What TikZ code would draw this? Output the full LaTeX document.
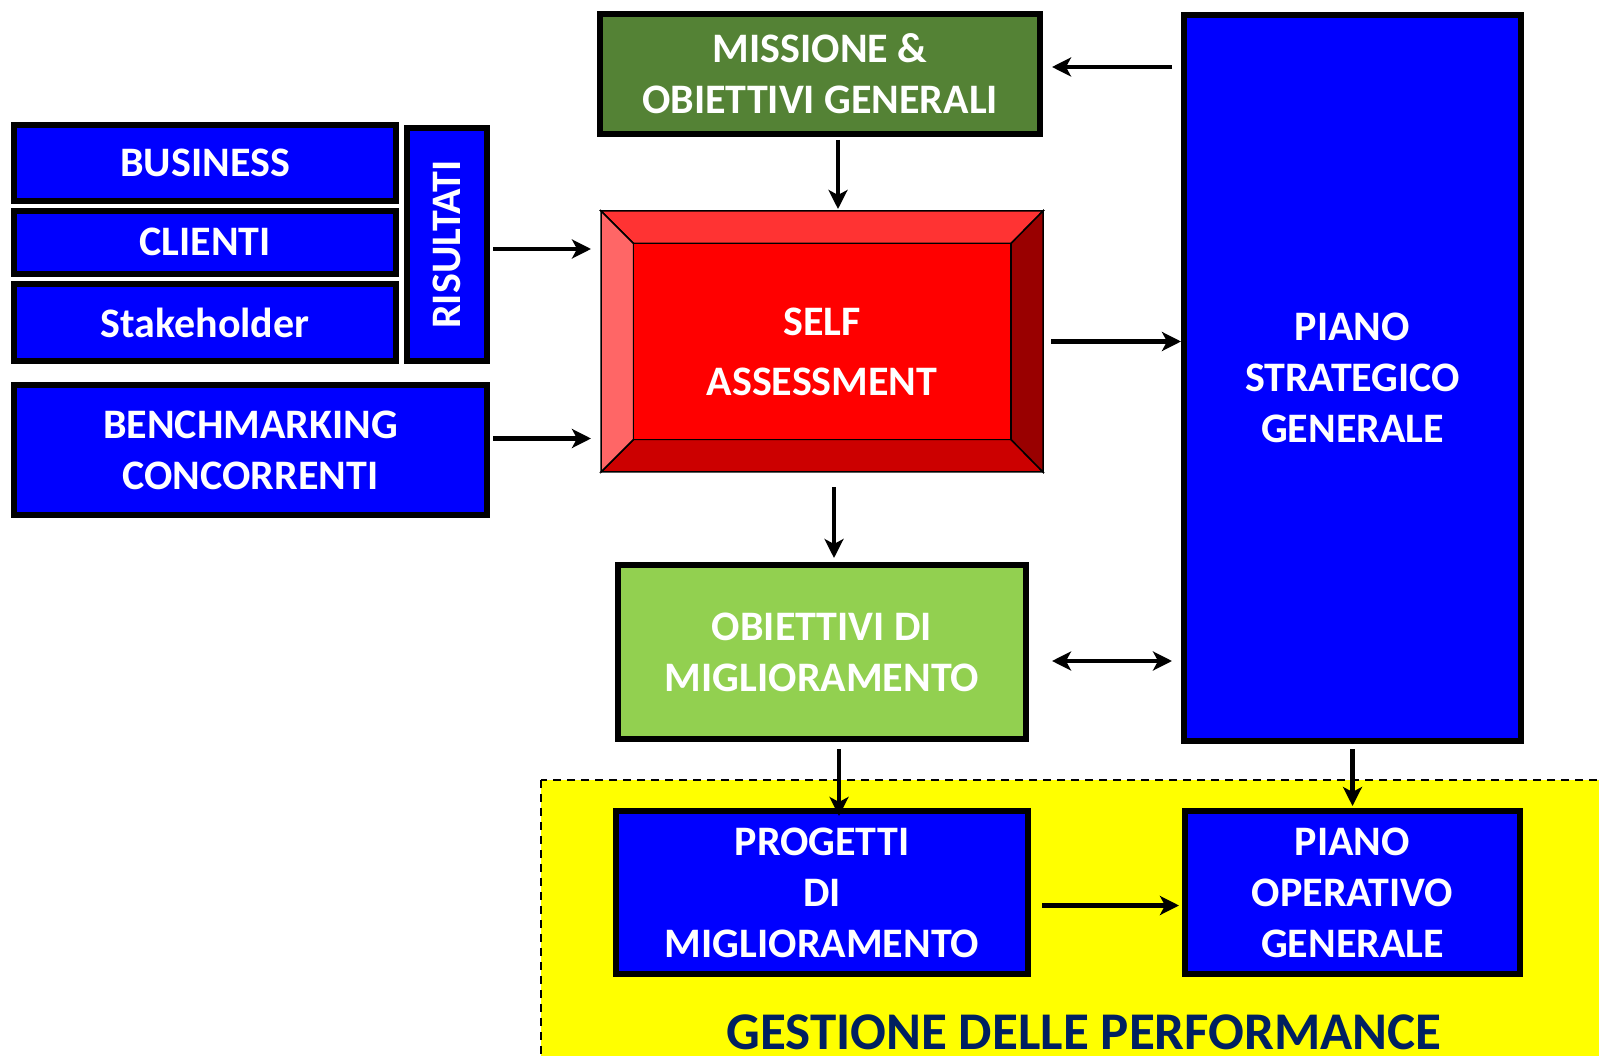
\documentclass[tikz,border=0pt]{standalone}
\usepackage{fontspec}
\setmainfont{Carlito}
\usetikzlibrary{positioning,arrows.meta}
\definecolor{boxblue}{RGB}{0,0,255}
\definecolor{missgreen}{RGB}{84,130,53}
\definecolor{obiegreen}{RGB}{146,208,80}
\definecolor{gestnavy}{RGB}{0,32,96}
\definecolor{zoneyellow}{RGB}{255,255,0}
\definecolor{selfmid}{RGB}{255,0,0}
\definecolor{selftop}{RGB}{255,51,51}
\definecolor{selfleft}{RGB}{255,102,102}
\definecolor{selfright}{RGB}{153,0,0}
\definecolor{selfbottom}{RGB}{204,0,0}
\newcommand{\boxfnt}{\bfseries\fontsize{42}{51}\selectfont}
\newcommand{\selffnt}{\bfseries\fontsize{42}{60}\selectfont}
\tikzset{boxtext/.style={text=white,font=\boxfnt,align=center,inner sep=0pt},
	 box/.style={boxtext,draw=black,line width=6pt,outer sep=0pt},
	 bluebox/.style={box,fill=boxblue},
	 missbox/.style={box,fill=missgreen},
	 obiebox/.style={box,fill=obiegreen},
	 selfbox/.style={inner sep=0pt,outer sep=0pt},
	 bevel/.style={draw=black,line width=1.5pt,line join=miter},
	 zone/.style={fill=zoneyellow,draw=black,line width=1.5pt,dash pattern=on 8pt off 6pt},
	 gest/.style={text=gestnavy,font=\bfseries\fontsize{53}{60}\selectfont,anchor=base,inner sep=0pt},
	 arr/.style={line width=4.5pt,-{Stealth[length=19pt,width=19pt,inset=5pt]}},
	 arrs/.style={line width=4.5pt,{Stealth[length=19pt,width=19pt,inset=5pt]}-{Stealth[length=19pt,width=19pt,inset=5pt]}}
	 }

\begin{document}
\begin{tikzpicture}[x=1pt,y=-1pt] % self assessment and performance
	\useasboundingbox (0,0) rectangle (1599,1056);
	\draw[zone] (541,780) rectangle (1700,1150);
	\node[gest] (gest) at (1084,1049) {GESTIONE DELLE PERFORMANCE};
	% inputs
	\node[bluebox,minimum width=382pt,minimum height=76.3pt] (busi) at (205,162.85) {BUSINESS};
	\node[bluebox,minimum width=382pt,minimum height=62.7pt] (clie) [below=10pt of busi] {CLIENTI};
	\node[bluebox,minimum width=382pt,minimum height=77pt] (stak) [below=10.3pt of clie] {Stakeholder};
	\node[bluebox,minimum width=80pt,minimum height=233pt] (risu) at (447,244.5) {};
	\node[boxtext,rotate=90] (risutxt) at (risu) {RISULTATI};
	\node[bluebox,minimum width=473pt,minimum height=130pt] (bench) at (250.5,450) {BENCHMARKING\\CONCORRENTI};
	% centre
	\node[missbox,minimum width=440pt,minimum height=120pt] (mission) at (820,74) {MISSIONE \&\\OBIETTIVI GENERALI};
	\node[selfbox,minimum width=442pt,minimum height=261pt] (self) at (822,341.5) {};
	\node[selfbox,minimum width=377.5pt,minimum height=196pt] (selfin) at (822.25,341.5) {};
	\filldraw[bevel,fill=selftop] (self.north west) -- (self.north east) -- (selfin.north east) -- (selfin.north west) -- cycle;
	\filldraw[bevel,fill=selfbottom] (self.south west) -- (self.south east) -- (selfin.south east) -- (selfin.south west) -- cycle;
	\filldraw[bevel,fill=selfleft] (self.north west) -- (selfin.north west) -- (selfin.south west) -- (self.south west) -- cycle;
	\filldraw[bevel,fill=selfright] (self.north east) -- (selfin.north east) -- (selfin.south east) -- (self.south east) -- cycle;
	\filldraw[bevel,fill=selfmid] (selfin.north west) rectangle (selfin.south east);
	\node[boxtext,font=\selffnt] (selftxt) at ([yshift=-10pt]self.center) {SELF\\ASSESSMENT};
	\node[obiebox,minimum width=408pt,minimum height=174pt] (obie) at (822,652) {OBIETTIVI DI\\MIGLIORAMENTO};
	\node[bluebox,minimum width=412pt,minimum height=163pt] (prog) at (822,892.5) {PROGETTI\\DI\\MIGLIORAMENTO};
	% right
	\node[bluebox,minimum width=337pt,minimum height=726pt] (strat) at (1352.5,378) {PIANO\\STRATEGICO\\GENERALE};
	\node[bluebox,minimum width=335pt,minimum height=163pt] (pop) at (1352.5,892.5) {PIANO\\OPERATIVO\\GENERALE};
	% connectors
	\coordinate (m1) at ([yshift=7pt]mission.east);
	\draw[arr,shorten <=12pt,shorten >=12pt] (strat.west |- m1) -- (m1);
	\draw[arr,shorten <=6pt,shorten >=2pt] ([xshift=18pt]mission.south) -- ([xshift=18pt]mission.south |- self.north);
	\draw[arr,shorten <=6pt,shorten >=10pt] ([yshift=-4.5pt]risu.east) -- ([yshift=-4.5pt]risu.east -| self.west);
	\draw[arr,shorten <=6pt,shorten >=10pt] ([yshift=11.5pt]bench.east) -- ([yshift=11.5pt]bench.east -| self.west);
	\draw[arr,shorten <=8pt,shorten >=3pt] (self.east) -- (self.east -| strat.west);
	\draw[arr,shorten <=15pt,shorten >=7pt] ([xshift=12pt]self.south) -- ([xshift=12pt]self.south |- obie.north);
	\draw[arrs,shorten <=26pt,shorten >=12pt] ([yshift=-9pt]obie.east) -- ([yshift=-9pt]obie.east -| strat.west);
	\draw[arr,shorten <=10pt,shorten >=-5pt] ([xshift=17pt]obie.south) -- ([xshift=17pt]obie.south |- prog.north);
	\draw[arr,shorten <=8pt,shorten >=5pt] (strat.south) -- (pop.north);
	\draw[arr,shorten <=14pt,shorten >=6pt] ([yshift=-13pt]prog.east) -- ([yshift=-13pt]prog.east -| pop.west);
\end{tikzpicture}
\end{document}
